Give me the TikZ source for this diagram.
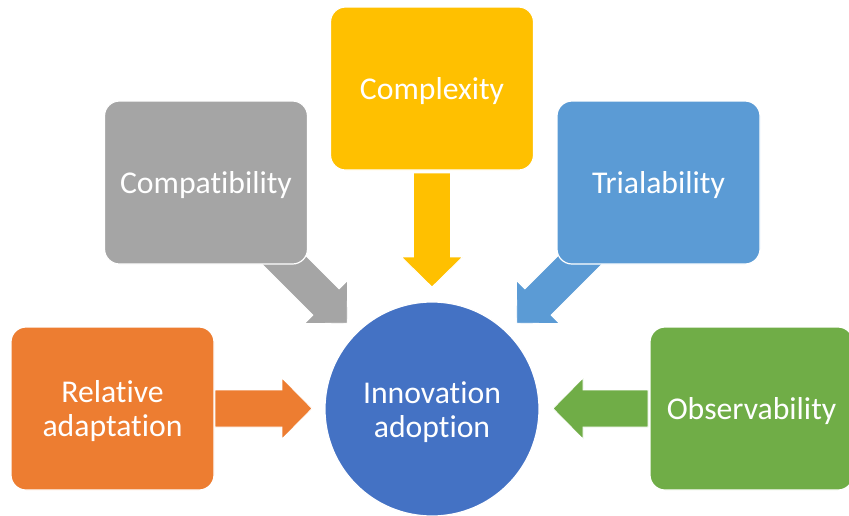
\documentclass[tikz,border=0pt]{standalone}
\usepackage{fontspec}
\setmainfont{Carlito}[Ligatures={NoCommon,NoContextual}]
\definecolor{cOrange}{HTML}{ED7D31}
\definecolor{cGray}{HTML}{A5A5A5}
\definecolor{cYellow}{HTML}{FFC000}
\definecolor{cBlue}{HTML}{5B9BD5}
\definecolor{cGreen}{HTML}{70AD47}
\definecolor{cCircle}{HTML}{4472C4}
\tikzset{
  txt/.style={text=white, align=center, inner sep=0pt, yshift=-3pt,
    font=\fontsize{31.7}{34}\selectfont},
  factor/.style={rounded corners=15pt, minimum width=203pt, minimum height=163pt,
    draw=white, line width=1.2pt, inner sep=0pt},
  hub/.style={circle, minimum size=214pt, fill=cCircle, draw=white, line width=1.2pt,
    inner sep=0pt},
  blockarrow/.style={draw=white, line width=0.8pt}
}
% #1 colour, #2 tail point, #3 angle, #4 length
\newcommand{\myblockarrow}[4]{%
  \begin{scope}[shift={#2}, rotate=#3]
    \path[blockarrow, fill=#1] (0,-18.5) -- (#4-30,-18.5) -- (#4-30,-30.5) -- (#4,0)
      -- (#4-30,30.5) -- (#4-30,18.5) -- (0,18.5) -- cycle;
  \end{scope}}
\begin{document}
\begin{tikzpicture}[x=1pt, y=-1pt]
\useasboundingbox (0,0) rectangle (849,515);
% block arrows (drawn beneath the boxes)
\myblockarrow{cGray}{(266.6,242.6)}{-45}{114}
\myblockarrow{cBlue}{(597.4,242.6)}{-135}{114}
\myblockarrow{cYellow}{(432,173)}{-90}{114}
\myblockarrow{cOrange}{(215,408.5)}{0}{97}
\myblockarrow{cGreen}{(648,408.5)}{180}{95}
% boxes
\node[factor, fill=cGray, label={[txt]center:Compatibility}] (compat) at (206,182.5) {};
\node[factor, fill=cYellow, label={[txt]center:Complexity}] (complex) at (432,88.5) {};
\node[factor, fill=cBlue, label={[txt]center:Trialability}] (trial) at (658.5,182.5) {};
\node[factor, fill=cOrange, label={[txt]center:Relative\\adaptation}] (rel) at (112.5,408.5) {};
\node[factor, fill=cGreen, label={[txt]center:Observability}] (obs) at (751.5,408.5) {};
\node[hub, label={[txt]center:Innovation\\adoption}] (innov) at (432,409) {};
\end{tikzpicture}
\end{document}
